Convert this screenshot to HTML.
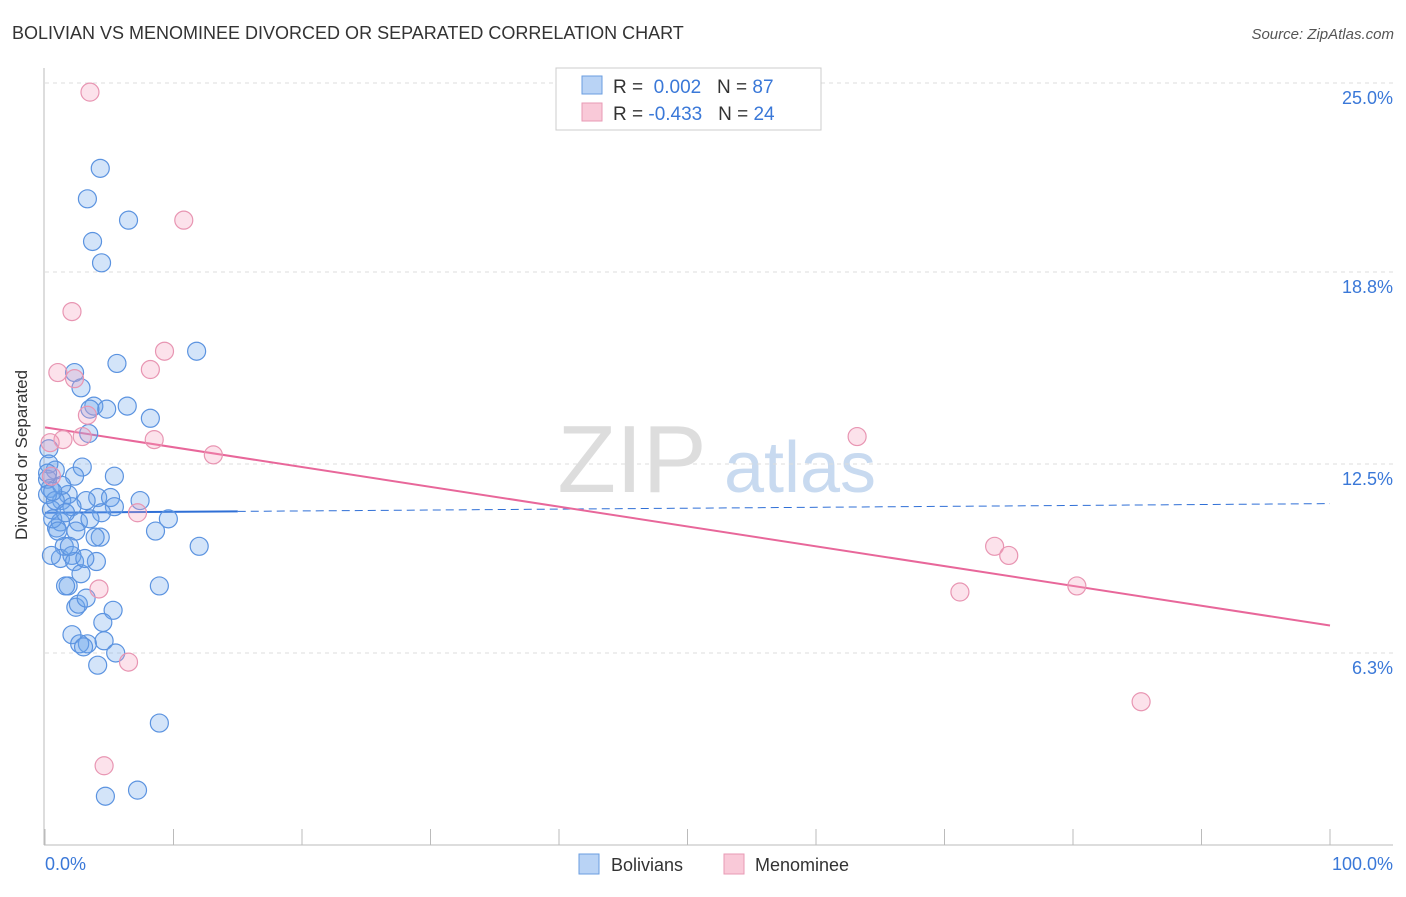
<!DOCTYPE html>
<html><head><meta charset="utf-8"><style>
body{margin:0;background:#fff;font-family:"Liberation Sans",sans-serif}
svg text{font-family:"Liberation Sans",sans-serif}
</style></head><body>
<svg width="1406" height="892">
<text x="12" y="39" font-size="18" fill="#333">BOLIVIAN VS MENOMINEE DIVORCED OR SEPARATED CORRELATION CHART</text>
<text x="1394" y="39" font-size="15" fill="#555" font-style="italic" text-anchor="end">Source: ZipAtlas.com</text>
<g>
<text x="632" y="492" font-size="96" fill="#ddd" font-family="Liberation Serif" text-anchor="middle">ZIP</text>
<text x="800" y="492" font-size="72" fill="#c8daf0" text-anchor="middle">atlas</text>
</g>
<g id="grid"></g>
<g id="axes"></g>
<g id="lines"></g>
<g id="pts"></g>
<text x="27" y="455" font-size="17" fill="#333" transform="rotate(-90 27 455)" text-anchor="middle">Divorced or Separated</text>
<text x="45" y="870" font-size="18" fill="#3a78d8">0.0%</text>
<text x="1393" y="870" font-size="18" fill="#3a78d8" text-anchor="end">100.0%</text>
<g>
<rect x="556" y="68" width="265" height="62" fill="#fff" stroke="#ccc"/>
<rect x="582" y="76" width="20" height="18" fill="#b9d3f5" stroke="#6a9ee0"/>
<rect x="582" y="103" width="20" height="18" fill="#f9c9d8" stroke="#e89ab5"/>
<text x="613" y="93" font-size="19" fill="#333">R = <tspan fill="#3a78d8">&#160;0.002</tspan>&#160;&#160;&#160;N = <tspan fill="#3a78d8">87</tspan></text>
<text x="613" y="120" font-size="19" fill="#333">R = <tspan fill="#3a78d8">-0.433</tspan>&#160;&#160;&#160;N = <tspan fill="#3a78d8">24</tspan></text>
</g>
<g>
<rect x="579" y="854" width="20" height="20" fill="#b9d3f5" stroke="#6a9ee0"/>
<text x="611" y="871" font-size="18" fill="#333">Bolivians</text>
<rect x="724" y="854" width="20" height="20" fill="#f9c9d8" stroke="#e89ab5"/>
<text x="755" y="871" font-size="18" fill="#333">Menominee</text>
</g>
</svg>
<script>
const yTicks=[25,18.8,12.5,6.3];
const yTickLabels=["25.0%","18.8%","12.5%","6.3%"];
const xTicks=[0,10,20,30,40,50,60,70,80,90,100];
const blueX=[4.3,3.3,6.5,3.7,4.4,11.8,5.6,2.3,2.8,6.4,3.8,4.8,3.5,8.2,3.4,0.3,0.8,2.9,5.4,2.3,0.4,1.8,4.1,5.1,7.4,3.2,1.3,2.1,5.4,0.5,4.4,9.6,1.2,2.6,0.9,2.4,4.3,8.6,1.5,3.9,1.2,2.1,0.5,2.3,4.0,2.8,1.8,1.6,8.9,2.4,2.6,5.3,3.2,4.5,2.1,3.3,2.7,4.6,3.0,5.5,4.1,8.9,4.7,7.2,12.0,0.6,0.2,0.2,0.8,1.3,1.9,1.0,3.1,0.3,0.2,0.6,1.6,3.5];
const blueY=[22.2,21.2,20.5,19.8,19.1,16.2,15.8,15.5,15.0,14.4,14.4,14.3,14.3,14.0,13.5,13.0,12.3,12.4,12.1,12.1,11.7,11.5,11.4,11.4,11.3,11.3,11.3,11.1,11.1,11.0,10.9,10.7,10.6,10.6,10.4,10.3,10.1,10.3,9.8,10.1,9.4,9.5,9.5,9.3,9.3,8.9,8.5,8.5,8.5,7.8,7.9,7.7,8.1,7.3,6.9,6.6,6.6,6.7,6.5,6.3,5.9,4.0,1.6,1.8,9.8,10.7,12.0,11.5,11.3,11.8,9.8,10.3,9.4,12.5,12.2,11.6,10.9,10.7];
const pinkX=[3.5,10.8,2.1,9.3,1.0,8.2,2.3,3.3,1.4,2.9,8.5,13.1,0.4,7.2,4.2,6.5,4.6,63.2,73.9,75.0,71.2,80.3,85.3,0.5];
const pinkY=[24.7,20.5,17.5,16.2,15.5,15.6,15.3,14.1,13.3,13.4,13.3,12.8,13.2,10.9,8.4,6.0,2.6,13.4,9.8,9.5,8.3,8.5,4.7,12.1];
const blueTrend=[10.9,11.2];
const pinkTrend=[13.7,7.2];
const NS="http://www.w3.org/2000/svg";
const X=v=>45+v*12.85, Y=v=>845-v*30.48;
function mk(p,t,a){const e=document.createElementNS(NS,t);for(const k in a)e.setAttribute(k,a[k]);document.getElementById(p).appendChild(e);return e;}
yTicks.forEach((v,i)=>{
 const g=mk('grid','line',{x1:45,x2:1393,y1:Y(v),y2:Y(v),stroke:'#ddd','stroke-dasharray':'4,4'});
 
 
 const t=mk('grid','text',{x:1393,y:Y(v)+21,'font-size':18,fill:'#3a78d8','text-anchor':'end'});
 t.textContent=yTickLabels[i];
 
 
});
const ya=mk('axes','line',{x1:44,x2:44,y1:68,y2:845,stroke:'#bbb'});


const xa=mk('axes','line',{x1:44,x2:1393,y1:845,y2:845,stroke:'#bbb'});


xTicks.forEach(v=>{
 const t=mk('axes','line',{x1:X(v),x2:X(v),y1:829,y2:845,stroke:'#bbb'});
 
 
});
blueX.forEach((x,i)=>{
 const c=mk('pts','circle',{cx:X(x),cy:Y(blueY[i]),r:9,fill:'rgba(110,165,235,0.3)',stroke:'#5b93e0','stroke-width':1.2});
 
 
});
pinkX.forEach((x,i)=>{
 const c=mk('pts','circle',{cx:X(x),cy:Y(pinkY[i]),r:9,fill:'rgba(245,160,190,0.3)',stroke:'#e895b2','stroke-width':1.2});
 
 
});
const bAt=x=>blueTrend[0]+(blueTrend[1]-blueTrend[0])*x/100;
const l1=mk('lines','line',{x1:X(0),y1:Y(bAt(0)),x2:X(15),y2:Y(bAt(15)),stroke:'#2f6fd6','stroke-width':2});


const l2=mk('lines','line',{x1:X(15),y1:Y(bAt(15)),x2:X(100),y2:Y(bAt(100)),stroke:'#2f6fd6','stroke-width':1,'stroke-dasharray':'8,5'});


const l3=mk('lines','line',{x1:X(0),y1:Y(pinkTrend[0]),x2:X(100),y2:Y(pinkTrend[1]),stroke:'#e8679a','stroke-width':2});


</script>
</body></html>
